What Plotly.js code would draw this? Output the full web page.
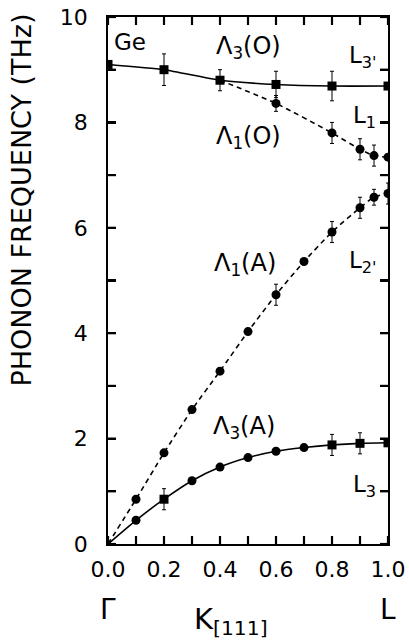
<!DOCTYPE html>
<html><head><meta charset="utf-8">
<script src="https://cdn.plot.ly/plotly-3.0.1.min.js"></script>
<style>body{margin:0;background:#fff}</style>
</head><body><div id="chart" style="width:409px;height:644px"></div>
<script>
// Λ3(O) optic transverse branch (squares, solid)
const kL3O = [0.0, 0.2, 0.4, 0.6, 0.8, 1.0];
const fL3O = [9.10, 9.00, 8.80, 8.72, 8.69, 8.69];
const eL3O = [0, 0.30, 0.20, 0.25, 0.28, 0];
// Λ1(O) optic longitudinal branch (circles, dashed)
const kL1O = [0.4, 0.6, 0.8, 0.9, 0.95, 1.0];
const fL1O = [8.80, 8.36, 7.80, 7.49, 7.37, 7.34];
const eL1O = [0, 0.15, 0.20, 0.20, 0.20, 0];
// Λ1(A) acoustic longitudinal branch (circles, dashed)
const kL1A = [0.0, 0.1, 0.2, 0.3, 0.4, 0.5, 0.6, 0.7, 0.8, 0.9, 0.95, 1.0];
const fL1A = [0.0, 0.85, 1.73, 2.55, 3.28, 4.03, 4.73, 5.36, 5.92, 6.38, 6.58, 6.65];
const eL1A = [0, 0, 0, 0, 0, 0, 0.20, 0, 0.20, 0.20, 0.15, 0.20];
// Λ3(A) acoustic transverse branch (solid)
const kL3A = [0.0, 0.1, 0.2, 0.3, 0.4, 0.5, 0.6, 0.7, 0.8, 0.9, 1.0];
const fL3A = [0.0, 0.45, 0.85, 1.20, 1.46, 1.64, 1.76, 1.83, 1.88, 1.91, 1.92];
const eL3A = [0, 0, 0.20, 0, 0, 0, 0, 0, 0.20, 0.20, 0];
const symL3A = ['circle','circle','square','circle','circle','circle','circle','circle','square','square','square'];

const xTickVals = [0, 0.2, 0.4, 0.6, 0.8, 1.0];
const xTickText = ['0.0','0.2','0.4','0.6','0.8','1.0'];
const xMinorVals = [0.1, 0.3, 0.5, 0.7, 0.9];
const yTickVals = [0, 2, 4, 6, 8, 10];
const yTickText = ['0','2','4','6','8','10'];
const yMinorVals = [1, 3, 5, 7, 9];

const FONT = 'DejaVu Sans, sans-serif';
const lineT = (x, y, dash) => ({x, y, type:'scatter', mode:'lines',
  line:{color:'#000', width:1.6, dash:dash, shape:'spline', smoothing:0.6},
  hoverinfo:'skip', showlegend:false});
const markT = (x, y, e, sym, n0) => ({x:x.slice(n0), y:y.slice(n0), type:'scatter', mode:'markers',
  marker:{color:'#000', size:9, symbol: Array.isArray(sym) ? sym.slice(n0) : sym},
  error_y:{type:'data', array:e.slice(n0), visible:true, color:'#000', thickness:1, width:2},
  showlegend:false});

const traces = [
  lineT(kL3O, fL3O, 'solid'),
  lineT(kL1O, fL1O, '5px,4px'),
  lineT(kL1A, fL1A, '5px,4px'),
  lineT(kL3A, fL3A, 'solid'),
  markT(kL3O, fL3O, eL3O, 'square', 0),
  markT(kL1O, fL1O, eL1O, 'circle', 1),
  markT(kL1A, fL1A, eL1A, 'circle', 1),
  markT(kL3A, fL3A, eL3A, symL3A, 1)
];

const ann = (x, y, text, size, extra) => Object.assign({x, y, xref:'x', yref:'y', text, showarrow:false,
  yanchor:'middle', font:{family:FONT, size:size||22, color:'#000'}}, extra||{});

const axisCommon = {ticks:'inside', ticklen:8, tickwidth:2.2, tickcolor:'#000', layer:'above traces',
  showline:true, linewidth:1.8, linecolor:'#000', mirror:'allticks', showgrid:false, zeroline:false};

// inside tick marks on all four sides, placed at the axis tick values
const TX = 8 / 527, TY = 8 / 280;
const tickShape = (o) => Object.assign({type:'line', layer:'above', line:{color:'#000', width:2.2}}, o);
const shapes = [];
xTickVals.concat(xMinorVals).forEach(v => {
  shapes.push(tickShape({xref:'x', yref:'paper', x0:v, x1:v, y0:0, y1:TX}));
  shapes.push(tickShape({xref:'x', yref:'paper', x0:v, x1:v, y0:1, y1:1 - TX}));
});
yTickVals.concat(yMinorVals).forEach(v => {
  shapes.push(tickShape({xref:'paper', yref:'y', y0:v, y1:v, x0:0, x1:TY}));
  shapes.push(tickShape({xref:'paper', yref:'y', y0:v, y1:v, x0:1, x1:1 - TY}));
});

const layout = {
  width:409, height:644,
  margin:{l:108, r:21, t:17, b:100},
  xaxis:Object.assign({}, axisCommon, {range:[0,1], tickvals:xTickVals, ticktext:xTickText,
    minor:{tickvals:xMinorVals, ticks:'inside', ticklen:8, tickwidth:2.2, tickcolor:'#000'},
    tickfont:{family:FONT, size:22, color:'#000'}, ticklabelstandoff:5}),
  yaxis:Object.assign({}, axisCommon, {range:[0,10], tickvals:yTickVals, ticktext:yTickText,
    minor:{tickvals:yMinorVals, ticks:'inside', ticklen:8, tickwidth:2.2, tickcolor:'#000'},
    tickfont:{family:FONT, size:22, color:'#000'}, ticklabelstandoff:14}),
  shapes: shapes,
  annotations:[
    ann(0.015, 9.53, 'Ge', 23, {xanchor:'left'}),
    ann(0.5, 9.42, 'Λ<sub>3</sub>(O)', 24),
    ann(0.91, 9.25, 'L<sub>3\'</sub>', 23),
    ann(0.915, 8.1, 'L<sub>1</sub>', 23),
    ann(0.5, 7.72, 'Λ<sub>1</sub>(O)', 24),
    ann(0.49, 5.3, 'Λ<sub>1</sub>(A)', 24),
    ann(0.91, 5.35, 'L<sub>2\'</sub>', 23),
    ann(0.485, 2.22, 'Λ<sub>3</sub>(A)', 24),
    ann(0.915, 1.1, 'L<sub>3</sub>', 23),
    {xref:'x', yref:'paper', x:0, y:-0.125, yanchor:'middle', text:'Γ', showarrow:false, font:{family:FONT, size:28, color:'#000'}},
    {xref:'x', yref:'paper', x:1, y:-0.125, yanchor:'middle', text:'L', showarrow:false, font:{family:FONT, size:28, color:'#000'}},
    {xref:'x', yref:'paper', x:0.44, y:-0.146, yanchor:'middle', text:'K<sub>[111]</sub>', showarrow:false, font:{family:FONT, size:29, color:'#000'}},
    {xref:'paper', yref:'paper', x:-0.31, y:0.652, xanchor:'center', yanchor:'middle', text:'PHONON FREQUENCY (THz)', textangle:-90, showarrow:false,
      font:{family:FONT, size:27, color:'#000'}}
  ]
};
Plotly.newPlot('chart', traces, layout, {staticPlot:true, displayModeBar:false});
</script></body></html>
